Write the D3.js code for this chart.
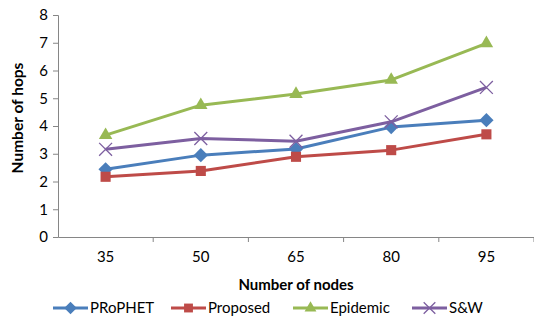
<!DOCTYPE html>
<html>
<head>
<meta charset="utf-8">
<script src="https://cdn.jsdelivr.net/npm/d3@7"></script>
<style>
  body { margin: 0; background: #fff; }
  text { font-family: Lato, "Open Sans", sans-serif; fill: #000; }
</style>
</head>
<body>
<div id="chart"></div>
<script>
// chart data
const nodes = ["35", "50", "65", "80", "95"];
const seriesNames = ["PRoPHET", "Proposed", "Epidemic", "S&W"];
const prophet = [2.44, 2.95, 3.17, 3.96, 4.21];
const proposed = [2.17, 2.38, 2.89, 3.13, 3.70];
const epidemic = [3.67, 4.75, 5.15, 5.66, 6.98];
const sw = [3.16, 3.55, 3.45, 4.15, 5.39];
const yTicks = [0, 1, 2, 3, 4, 5, 6, 7, 8];

const colors = ["#4a7ebb", "#be4b48", "#98b954", "#7d5fa0"];
const symbols = [d3.symbolDiamond2, d3.symbolSquare2, d3.symbolTriangle2, d3.symbolX];
const series = seriesNames.map((name, i) => ({
    name: name,
    values: [prophet, proposed, epidemic, sw][i],
    color: colors[i],
    symbol: symbols[i]
}));

const width = 534, height = 320;
const margin = { top: 15, right: 0, bottom: 83, left: 58 };

const svg = d3.select("#chart")
    .append("svg")
    .attr("width", width)
    .attr("height", height);

const g = svg.append("g")
    .attr("transform", `translate(${margin.left}, ${margin.top})`);

const w = width - margin.left - margin.right;
const h = height - margin.top - margin.bottom;

const xScale = d3.scaleBand().domain(nodes).range([0, w]);
const yScale = d3.scaleLinear().domain([0, 8]).range([h, 0]);

// y axis
const yAxis = g.append("g")
    .call(d3.axisLeft(yScale).tickValues(yTicks).tickSize(5).tickPadding(5));
yAxis.select(".domain").attr("stroke", "#868686");
yAxis.selectAll(".tick line").attr("stroke", "#868686");
yAxis.selectAll(".tick text").style("font-size", "15px");

// x axis with ticks at band edges
const xAxis = g.append("g")
    .attr("transform", `translate(0, ${h})`)
    .call(d3.axisBottom(xScale).tickSize(0).tickPadding(14));
xAxis.select(".domain").attr("stroke", "#868686");
xAxis.selectAll(".tick text").style("font-size", "15px");
g.append("g")
    .selectAll("line")
    .data(nodes)
    .enter()
    .append("line")
    .attr("x1", d => xScale(d) + xScale.bandwidth())
    .attr("x2", d => xScale(d) + xScale.bandwidth())
    .attr("y1", h)
    .attr("y2", h + 5)
    .attr("stroke", "#868686");

// lines and markers
const line = d3.line()
    .x((d, i) => xScale(nodes[i]) + xScale.bandwidth() / 2)
    .y(d => yScale(d));

series.forEach(s => {
    g.append("path")
        .datum(s.values)
        .attr("fill", "none")
        .attr("stroke", s.color)
        .attr("stroke-width", 3)
        .attr("stroke-linejoin", "round")
        .attr("d", line);
    const isX = s.symbol === d3.symbolX;
    g.selectAll(null)
        .data(s.values)
        .enter()
        .append("path")
        .attr("transform", (d, i) => `translate(${xScale(nodes[i]) + xScale.bandwidth() / 2}, ${yScale(d)})`)
        .attr("d", d3.symbol().type(s.symbol).size(isX ? 110 : 130))
        .attr("fill", isX ? "none" : s.color)
        .attr("stroke", s.color)
        .attr("stroke-width", isX ? 1.3 : 0);
});

// axis titles
svg.append("text")
    .attr("transform", "translate(23, 118) rotate(-90)")
    .attr("text-anchor", "middle")
    .style("font-size", "15.5px")
    .style("font-weight", "bold")
    .text("Number of hops");

svg.append("text")
    .attr("x", 296)
    .attr("y", 290)
    .attr("text-anchor", "middle")
    .style("font-size", "15px")
    .style("font-weight", "bold")
    .text("Number of nodes");

// legend
const legendX = [53, 171, 293, 412];
const legend = svg.selectAll(".legend")
    .data(series)
    .enter()
    .append("g")
    .attr("class", "legend")
    .attr("transform", (d, i) => `translate(${legendX[i]}, 308)`);
legend.append("line")
    .attr("x1", 0).attr("x2", 35)
    .attr("stroke", d => d.color)
    .attr("stroke-width", 3);
legend.append("path")
    .attr("transform", "translate(17.5, 0)")
    .attr("d", d => d3.symbol().type(d.symbol).size(d.symbol === d3.symbolX ? 90 : 100)())
    .attr("fill", d => d.symbol === d3.symbolX ? "none" : d.color)
    .attr("stroke", d => d.color)
    .attr("stroke-width", d => d.symbol === d3.symbolX ? 1.3 : 0);
legend.append("text")
    .attr("x", 37)
    .attr("y", 5)
    .style("font-size", "15px")
    .text(d => d.name);
</script>
</body>
</html>
